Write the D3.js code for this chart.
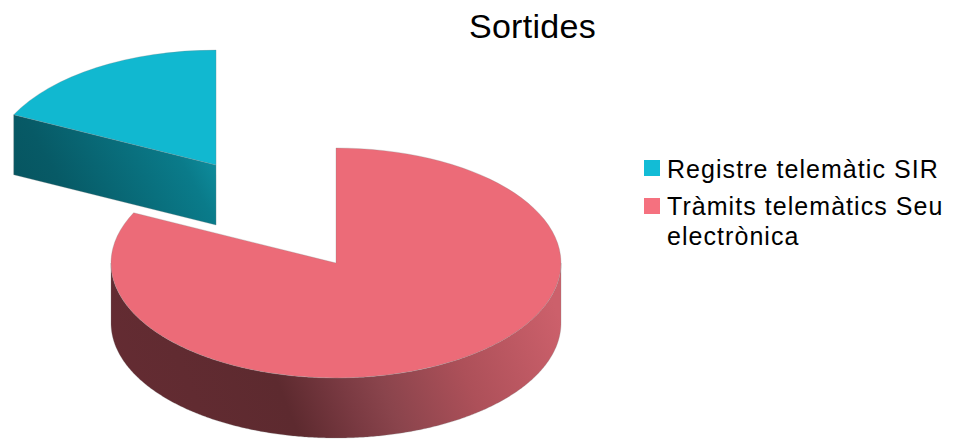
<!DOCTYPE html>
<html>
<head>
<meta charset="utf-8">
<script src="https://cdn.jsdelivr.net/npm/d3@7"></script>
<style>
  html, body { margin: 0; padding: 0; background: #fff; }
  svg { display: block; }
  text { font-family: "Liberation Sans", Arial, sans-serif; fill: #000; }
</style>
</head>
<body>
<svg id="chart" width="953" height="439"></svg>
<script>
const titleText = "Sortides";
const categories = ["Registre telemàtic SIR", "Tràmits telemàtics Seu electrònica"];
const legendLines = [["Registre telemàtic SIR"], ["Tràmits telemàtics Seu", "electrònica"]];
const values = [17.8, 82.2];
const explode = [1.005, 0];
const topColors = ["#11b8d0", "#ec6b78"];
const swatchColors = ["#12bcd6", "#f5717f"];

const W = 953, H = 439;
const cx = 336, cy = 263, rx = 225, ry = 115, depth = 60;
const edge = "rgba(130,130,130,0.45)";

const svg = d3.select("#chart").attr("viewBox", `0 0 ${W} ${H}`);
const defs = svg.append("defs");

function linearGradient(id, p, stops) {
  const g = defs.append("linearGradient").attr("id", id)
    .attr("gradientUnits", "userSpaceOnUse")
    .attr("x1", p[0]).attr("y1", p[1]).attr("x2", p[2]).attr("y2", p[3]);
  stops.forEach(([o, c]) => g.append("stop").attr("offset", o).attr("stop-color", c));
}
// Side shading of each slice
linearGradient("wall-0", [13, 200, 230, 80], [
  [0, "#06545f"], [0.2, "#075a66"], [0.67, "#0a7b8a"], [0.8, "#0e8e9e"], [1, "#0e8e9e"]
]);
linearGradient("wall-1", [120, 440, 540, 270], [
  [0, "#652c33"], [0.37, "#5d2a2f"], [0.5, "#7a3a42"], [0.58, "#8a444c"],
  [0.76, "#ad5059"], [1, "#cc606b"]
]);

// Projection of the tilted unit disc onto the page
const sx = d3.scaleLinear().domain([-1, 1]).range([cx - rx, cx + rx]);
const sy = d3.scaleLinear().domain([-1, 1]).range([cy - ry, cy + ry]);

const teal = values[0] / d3.sum(values) * 2 * Math.PI;
const pie = d3.pie().sort(null).startAngle(-teal).endAngle(2 * Math.PI - teal);
const slices = pie(values);

const unitArc = d3.arc().innerRadius(0).outerRadius(100);
const line = d3.line();
const STEP = Math.PI / 360;

function point(a, off, r, z) {
  return [
    sx(off[0] + r * Math.sin(a)),
    sy(off[1] - r * Math.cos(a)) + z
  ];
}

slices.forEach((s, i) => {
  const mid = (s.startAngle + s.endAngle) / 2;
  const off = [explode[i] * Math.sin(mid), -explode[i] * Math.cos(mid)];
  const g = svg.append("g");

  // Curved outer wall: only the front half of the rim faces the viewer
  const a0 = Math.max(s.startAngle, Math.PI / 2);
  const a1 = Math.min(s.endAngle, 3 * Math.PI / 2);
  if (a1 > a0) {
    const angles = d3.range(a0, a1, STEP).concat(a1);
    const upper = angles.map(a => point(a, off, 1, 0));
    const lower = angles.map(a => point(a, off, 1, depth)).reverse();
    g.append("path").attr("d", line(upper.concat(lower)) + "Z")
      .attr("fill", `url(#wall-${i})`)
      .attr("stroke", edge).attr("stroke-width", 0.6);
  }

  // Flat cut faces that turn toward the viewer
  [[s.startAngle, -Math.PI / 2], [s.endAngle, Math.PI / 2]].forEach(([a, turn]) => {
    if (-Math.cos(a + turn) > 1e-6) {
      const c = point(a, off, 0, 0), e = point(a, off, 1, 0);
      const quad = [c, e, point(a, off, 1, depth), point(a, off, 0, depth)];
      g.append("path").attr("d", line(quad) + "Z").attr("fill", `url(#wall-${i})`)
        .attr("stroke", edge).attr("stroke-width", 0.6);
    }
  });

  // Top face
  g.append("path")
    .attr("transform",
      `translate(${sx(off[0])},${sy(off[1])}) scale(${rx / 100},${ry / 100})`)
    .attr("d", unitArc(s))
    .attr("fill", topColors[i])
    .attr("stroke", edge).attr("stroke-width", 0.6)
    .attr("vector-effect", "non-scaling-stroke");
});

// Title
svg.append("text")
  .attr("x", 532.5).attr("y", 38)
  .attr("text-anchor", "middle")
  .attr("font-size", 34)
  .attr("letter-spacing", 0.3)
  .text(titleText);

// Legend
const legendTop = [160, 198];
const legendBaseline = [178, 215];
const lineStep = 30;
const legend = svg.append("g");
categories.forEach((c, i) => {
  legend.append("rect")
    .attr("x", 644).attr("y", legendTop[i])
    .attr("width", 16).attr("height", 16)
    .attr("fill", swatchColors[i]);
  legendLines[i].forEach((t, j) => {
    legend.append("text")
      .attr("x", 667).attr("y", legendBaseline[i] + j * lineStep)
      .attr("font-size", 25)
      .attr("letter-spacing", 1.05)
      .text(t);
  });
});
</script>
</body>
</html>
